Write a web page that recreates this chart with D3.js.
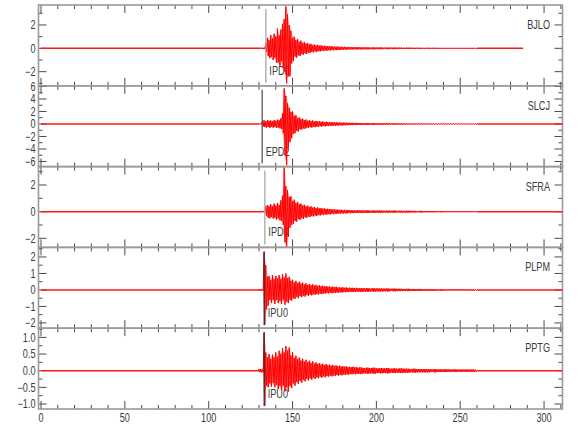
<!DOCTYPE html>
<html><head><meta charset="utf-8">
<script src="https://cdn.jsdelivr.net/npm/d3@7"></script>
<style>
body{margin:0;background:#fff}
text{font-family:"Liberation Sans",Arial,sans-serif;font-size:12px;fill:#3a3a3a}
</style>
</head><body><svg id="c" width="580" height="440"></svg>
<script>
// ---- data ----
const stations = ["BJLO","SLCJ","SFRA","PLPM","PPTG"];
const pickLabels = ["IPD0","EPD2","IPD0","IPU0","IPU0"];
const pickTimes = [134.1,131.9,133.5,133.1,133.1];
const traceStart = [0,0,0,0,0];
const traceEnd = [287.5,311,311,311,311];
const envStart = 130;   // first second of per-second envelope (peak up / trough down)
const tailStart = 190;  // first second of 2-s coda envelope
const xDomain = [-1.5,311];
const xMajorTicks = [0,50,100,150,200,250,300];
const xMinorStep = 10;
const yMin = [-3.21,-6.82,-2.68,-2.32,-1.15];
const yMax = [3.71,6.11,3.38,2.58,1.276];
const yMajorStep = [2,2,2,1,0.5];
const yMinorStep = [1,1,1,0.5,0.25];
const yFormat = ["d","d","d","d",".1f"];

const upBJLO = [0.05,0.06,0.04,0.06,
 0.4,0.9,0.7,1.15,0.85,1.25,1.0,1.7,1.1,1.6,2.1,2.5,3.6,2.9,2.0,1.5,0.9,1.0,0.7,0.8,0.55,0.65,0.45,0.55,0.4,0.45,0.33,
 0.38,0.27,0.33,0.25,0.3,0.22,0.26,0.19,0.23,0.18,
 0.2,0.15,0.18,0.14,0.16,0.13,0.15,0.12,0.14,0.11,
 0.13,0.1,0.12,0.1,0.11,0.09,0.11,0.08,0.1];
const loBJLO = [0.05,0.04,0.06,0.05,
 0.3,0.65,0.85,0.75,1.0,0.8,1.25,1.2,1.5,1.1,1.7,2.0,3.0,2.4,2.4,1.3,1.1,0.7,0.8,0.6,0.65,0.5,0.55,0.42,0.48,0.36,0.4,
 0.3,0.35,0.26,0.31,0.24,0.27,0.2,0.24,0.18,0.21,
 0.16,0.19,0.14,0.17,0.13,0.16,0.12,0.15,0.11,0.13,
 0.1,0.12,0.09,0.11,0.09,0.1,0.08,0.1,0.08];
const tailBJLO = [0.09,0.08,0.09,0.07,0.08,0.07,0.08,0.06,0.07,0.06,0.07,0.06,0.06,0.05,0.06,0.05,0.05,0.05,0.05,0.04,0.05,0.04,0.05,0.04,0.04,0.04,0.04,0.04,0.04,0.04,0.04,0.04,0.04,0.04,0.04];

const upSLCJ = [0.05,0.06,
 0.45,0.6,0.4,0.65,0.5,0.55,0.42,0.62,0.5,0.7,
 0.6,0.9,1.7,5.7,4.5,3.3,2.6,1.9,2.0,1.3,
 1.4,0.95,1.05,0.75,0.85,0.6,0.7,0.5,0.6,
 0.45,0.55,0.42,0.48,0.38,0.44,0.34,0.4,0.3,0.36,
 0.28,0.33,0.26,0.3,0.24,0.27,0.22,0.25,0.2,0.23,
 0.19,0.21,0.18,0.2,0.17,0.19,0.16,0.18,0.15];
const loSLCJ = [0.06,0.05,
 0.4,0.5,0.6,0.45,0.62,0.45,0.6,0.48,0.65,0.55,
 0.7,0.8,1.5,5.0,6.6,3.8,2.9,2.3,1.6,1.5,
 1.1,1.2,0.85,0.9,0.7,0.78,0.58,0.66,0.5,
 0.58,0.45,0.52,0.4,0.46,0.36,0.42,0.32,0.38,0.3,
 0.34,0.27,0.31,0.25,0.28,0.23,0.26,0.21,0.24,0.2,
 0.22,0.18,0.2,0.17,0.19,0.16,0.18,0.15,0.17];
const tailSLCJ = [0.16,0.14,0.15,0.13,0.14,0.12,0.13,0.11,0.12,0.1,0.11,0.1,0.1,0.09,0.09,0.08,0.09,0.08,0.08,0.07,0.07,0.07,0.07,0.06,0.06,0.06,0.06,0.05,0.06,0.05,0.05,0.05,0.05,0.05,0.05];

const upSFRA = [0.05,0.04,0.06,0.05,
 0.4,0.5,0.4,0.55,0.42,0.6,0.45,0.65,0.5,0.85,
 1.2,3.3,1.9,1.6,1.1,1.15,0.8,0.9,0.65,0.72,
 0.55,0.6,0.45,0.52,0.4,0.45,0.35,
 0.4,0.3,0.35,0.27,0.32,0.24,0.28,0.22,0.25,0.2,
 0.22,0.18,0.2,0.16,0.18,0.15,0.16,0.13,0.15,0.12,
 0.14,0.11,0.13,0.11,0.12,0.1,0.11,0.09,0.1];
const loSFRA = [0.05,0.06,0.04,0.05,
 0.3,0.45,0.5,0.4,0.52,0.45,0.6,0.5,0.65,0.7,
 1.0,2.3,2.6,1.9,1.2,1.0,0.9,0.7,0.75,0.55,
 0.62,0.48,0.55,0.42,0.46,0.36,0.4,
 0.32,0.36,0.28,0.32,0.25,0.29,0.22,0.26,0.2,0.23,
 0.18,0.21,0.16,0.19,0.15,0.17,0.13,0.15,0.12,0.14,
 0.11,0.13,0.1,0.12,0.1,0.11,0.09,0.1,0.09];
const tailSFRA = [0.1,0.09,0.1,0.08,0.09,0.08,0.09,0.07,0.08,0.07,0.08,0.06,0.07,0.06,0.07,0.06,0.06,0.05,0.06,0.05,0.05,0.05,0.05,0.04,0.05,0.04,0.04,0.04,0.04,0.04,0.04,0.04,0.04,0.04,0.04];

const upPLPM = [0.05,0.04,0.05,
 2.3,1.5,0.8,0.85,0.6,0.9,0.65,0.85,0.7,0.9,
 0.65,0.95,0.75,1.0,0.7,0.8,0.55,0.62,0.45,0.55,
 0.4,0.5,0.38,0.44,0.33,0.4,0.3,0.36,
 0.28,0.34,0.26,0.31,0.24,0.29,0.22,0.26,0.2,0.24,
 0.19,0.22,0.17,0.2,0.16,0.19,0.15,0.17,0.14,0.16,
 0.13,0.15,0.12,0.14,0.12,0.13,0.11,0.13,0.1];
const loPLPM = [0.05,0.05,0.04,
 2.1,1.2,0.95,0.6,0.8,0.6,0.85,0.6,0.8,0.65,
 0.85,0.6,0.9,0.7,0.8,0.6,0.65,0.5,0.55,0.42,
 0.5,0.37,0.44,0.34,0.4,0.3,0.36,0.28,
 0.33,0.26,0.3,0.24,0.28,0.22,0.26,0.2,0.23,0.18,
 0.21,0.17,0.2,0.16,0.18,0.15,0.17,0.14,0.16,0.13,
 0.14,0.12,0.13,0.11,0.13,0.11,0.12,0.1,0.11];
const tailPLPM = [0.12,0.1,0.11,0.09,0.1,0.09,0.09,0.08,0.09,0.07,0.08,0.07,0.07,0.06,0.07,0.06,0.06,0.06,0.06,0.05,0.05,0.05,0.05,0.04,0.05,0.04,0.04,0.04,0.04,0.04,0.04,0.04,0.04,0.04,0.04];

const upPPTG = [0.05,0.04,0.05,
 1.15,0.55,0.4,0.5,0.35,0.48,0.4,0.55,0.42,0.6,
 0.5,0.68,0.55,0.74,0.6,0.7,0.45,0.55,0.38,0.45,
 0.34,0.4,0.3,0.36,0.27,0.33,0.25,0.3,
 0.23,0.28,0.21,0.25,0.2,0.23,0.18,0.21,0.17,0.2,
 0.16,0.18,0.15,0.17,0.14,0.16,0.13,0.15,0.12,0.14,
 0.12,0.13,0.11,0.12,0.1,0.12,0.1,0.11,0.09];
const loPPTG = [0.04,0.05,0.05,
 1.05,0.45,0.5,0.38,0.48,0.36,0.5,0.42,0.55,0.45,
 0.58,0.45,0.62,0.5,0.63,0.45,0.52,0.38,0.45,0.34,
 0.4,0.3,0.36,0.27,0.32,0.25,0.29,0.23,
 0.27,0.21,0.25,0.2,0.23,0.18,0.21,0.17,0.2,0.16,
 0.18,0.15,0.17,0.14,0.16,0.13,0.15,0.12,0.14,0.11,
 0.13,0.11,0.12,0.1,0.11,0.09,0.11,0.09,0.1];
const tailPPTG = [0.1,0.08,0.09,0.08,0.09,0.07,0.08,0.07,0.08,0.06,0.07,0.06,0.07,0.06,0.06,0.05,0.06,0.05,0.05,0.05,0.05,0.04,0.05,0.04,0.04,0.04,0.04,0.035,0.04,0.035,0.035,0.035,0.035,0.035,0.035];

const ups = [upBJLO,upSLCJ,upSFRA,upPLPM,upPPTG];
const los = [loBJLO,loSLCJ,loSFRA,loPLPM,loPPTG];
const tails = [tailBJLO,tailSLCJ,tailSFRA,tailPLPM,tailPPTG];
const pickColors = ["#a8a8a8","#555","#a8a8a8","#333","#333"];

// ---- layout ----
const svg = d3.select("#c");
const L = 38.5, R = 562.5, T = 5, B = 409;
const ph = (B - T) / stations.length;
const x = d3.scaleLinear().domain(xDomain).range([L, R]);
const xMinor = d3.range(0, xDomain[1], xMinorStep).filter(v => !xMajorTicks.includes(v));
const frameCol = "#9a9a9a", tickCol = "#4a4a4a";
const SX = 0.76; // condensed lettering

function label(sel, px, py, str, anchor) {
  return sel.append("text")
    .attr("transform", `translate(${px},${py}) scale(${SX},1)`)
    .attr("text-anchor", anchor || "start").text(str);
}

const gFrame = svg.append("g"), gLab = svg.append("g"), gTrace = svg.append("g"), gTop = svg.append("g");

stations.forEach((st, i) => {
  const top = T + i * ph, bot = top + ph;
  const y = d3.scaleLinear().domain([yMin[i], yMax[i]]).range([bot, top]);
  const g = gFrame.append("g");
  const majY = d3.range(Math.ceil(yMin[i]/yMajorStep[i])*yMajorStep[i], yMax[i]+1e-9, yMajorStep[i]);
  const minY = d3.range(Math.ceil(yMin[i]/yMinorStep[i])*yMinorStep[i], yMax[i]+1e-9, yMinorStep[i])
      .filter(v => !majY.some(m => Math.abs(m - v) < 1e-9));
  [[majY, 8], [minY, 4]].forEach(([vals, len]) => {
    g.selectAll(null).data(vals).join("line")
      .attr("x1", L).attr("x2", L + len).attr("y1", d => y(d)).attr("y2", d => y(d))
      .attr("stroke", tickCol).attr("stroke-width", 1);
    g.selectAll(null).data(vals).join("line")
      .attr("x1", R).attr("x2", R - len).attr("y1", d => y(d)).attr("y2", d => y(d))
      .attr("stroke", tickCol).attr("stroke-width", 1);
  });
  const fmt = d3.format(yFormat[i]);
  majY.forEach(v => label(g, L - 3, y(v) + 4.3, fmt(Math.abs(v) < 1e-9 ? 0 : v), "end"));
  [[xMajorTicks, 8], [xMinor, 4]].forEach(([vals, len]) => {
    g.selectAll(null).data(vals).join("line")
      .attr("x1", d => x(d)).attr("x2", d => x(d)).attr("y1", top).attr("y2", top + len)
      .attr("stroke", tickCol).attr("stroke-width", 1);
    g.selectAll(null).data(vals).join("line")
      .attr("x1", d => x(d)).attr("x2", d => x(d)).attr("y1", bot).attr("y2", bot - len)
      .attr("stroke", tickCol).attr("stroke-width", 1);
  });
  g.append("rect").attr("x", L).attr("y", top).attr("width", R - L).attr("height", ph)
    .attr("fill", "none").attr("stroke", frameCol).attr("stroke-width", 1.6);

  const tailEnd = Math.min(traceEnd[i], tailStart + 2 * tails[i].length);
  const line = d3.line().x(d => x(d[0])).y(d => y(d[1]));

  // quiet segments: before the envelope and after the coda
  gTrace.append("path").attr("d", line([[traceStart[i], 0], [envStart, 0]]))
    .attr("fill", "none").attr("stroke", "#ff1a1a").attr("stroke-width", 1.5);
  if (tailEnd < traceEnd[i])
    gTrace.append("path").attr("d", line([[tailEnd, 0], [traceEnd[i], 0]]))
      .attr("fill", "none").attr("stroke", "#ff1a1a").attr("stroke-width", 1.5);

  // envelope band (dense oscillation fill)
  const band = ups[i].map((u, k) => [envStart + k + 0.25, u, -los[i][k]])
    .concat(tails[i].filter((a, k) => tailStart + 2 * k + 1.5 <= traceEnd[i])
      .map((a, k) => [tailStart + 2 * k + 0.75, a, -a]));
  const area = d3.area().x(d => x(d[0])).y0(d => y(d[2])).y1(d => y(d[1]));
  gTrace.append("path").attr("d", area(band)).attr("fill", "#ff0000").attr("fill-opacity", 0.35);

  // active waveform from the per-second envelopes
  const pts = [[envStart, 0]];
  ups[i].forEach((u, k) => {
    pts.push([envStart + k, u]);
    pts.push([envStart + k + 0.5, -los[i][k]]);
  });
  tails[i].forEach((a, k) => {
    const t = tailStart + 2 * k;
    if (t + 1.5 > traceEnd[i]) return;
    pts.push([t, a], [t + 0.5, -a], [t + 1, a], [t + 1.5, -a]);
  });
  pts.push([tailEnd, 0]);
  gTrace.append("path").attr("d", line(pts)).attr("fill", "none")
    .attr("stroke", "#ff0000").attr("stroke-width", 1);

  // pick
  gTop.append("line").attr("x1", x(pickTimes[i])).attr("x2", x(pickTimes[i]))
    .attr("y1", top + 4).attr("y2", bot - 3)
    .attr("stroke", pickColors[i]).attr("stroke-width", 1.3);
  label(gLab, x(pickTimes[i]) + 3.5, bot - 11, pickLabels[i]);
  label(gLab, 550, top + 24, st, "end");

  if (i === stations.length - 1) {
    xMajorTicks.forEach(v => label(gLab, x(v), bot + 13, String(v), "middle"));
  }
});
</script>
</body></html>
